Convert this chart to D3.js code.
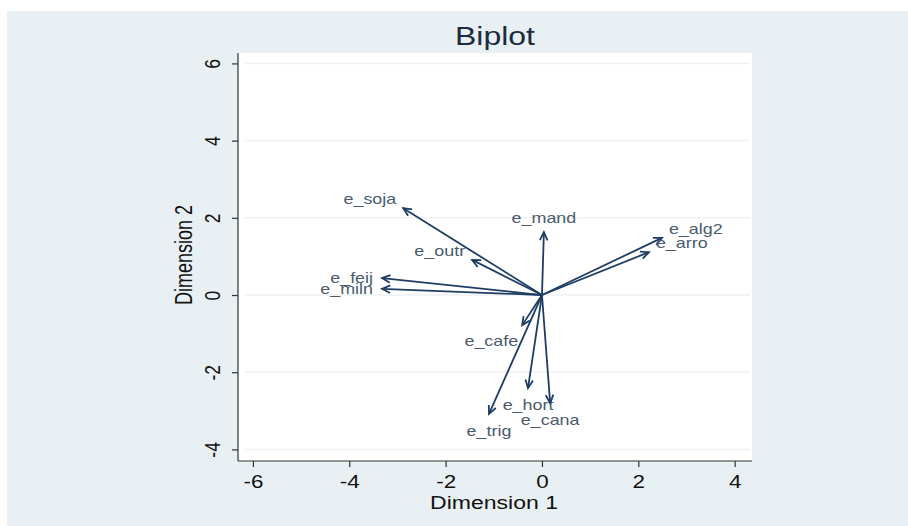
<!DOCTYPE html>
<html>
<head>
<meta charset="utf-8">
<script src="https://cdn.jsdelivr.net/npm/d3@7"></script>
<style>
  html, body { margin: 0; padding: 0; background: #ffffff; }
  svg { display: block; font-family: "Liberation Sans", Arial, sans-serif; }
</style>
</head>
<body>
<div id="chart"></div>
<script>
// biplot loadings
const variables = ["e_soja", "e_outr", "e_feij", "e_miln", "e_mand", "e_alg2", "e_arro", "e_cafe", "e_hort", "e_cana", "e_trig"];
const dim1 = [-2.88, -1.45, -3.32, -3.32, 0.04, 2.49, 2.22, -0.41, -0.29, 0.17, -1.10];
const dim2 = [2.25, 0.91, 0.44, 0.16, 1.63, 1.48, 1.11, -0.78, -2.41, -2.80, -3.08];
const xTicks = [-6, -4, -2, 0, 2, 4];
const yTicks = [-4, -2, 0, 2, 4, 6];

// label clock positions (like stata mlabvpos)
const labelClock = { e_soja: 10, e_outr: 10, e_feij: 9, e_miln: 9, e_mand: 12, e_alg2: 2, e_arro: 2, e_cafe: 7, e_hort: 6, e_cana: 6, e_trig: 6 };

drawBiplot();

function drawBiplot() {
  const width = 908, height = 526;
  const sx = 1.28; // picture is stretched sideways
  const left = 238, right = 752, top = 53, bottom = 461;

  const svg = d3.select("#chart").append("svg")
      .attr("width", width)
      .attr("height", height);

  // graph region
  svg.append("rect")
      .attr("x", 7).attr("y", 11)
      .attr("width", width - 7).attr("height", height - 11)
      .attr("fill", "#e8f0f3");

  // plot region
  svg.append("rect")
      .attr("x", left).attr("y", top)
      .attr("width", right - left).attr("height", bottom - top)
      .attr("fill", "#ffffff");

  const x = d3.scaleLinear().domain([-6.31, 4.36]).range([left, right]);
  const y = d3.scaleLinear().domain([-4.30, 6.27]).range([bottom, top]);

  // grid lines
  svg.append("g").selectAll("line")
      .data(yTicks)
      .enter().append("line")
      .attr("x1", left + 6).attr("x2", right - 2)
      .attr("y1", d => y(d)).attr("y2", d => y(d))
      .attr("stroke", "#edf2f4")
      .attr("stroke-width", 1.5);

  // axes
  const xAxis = svg.append("g")
      .attr("transform", "translate(0," + bottom + ")")
      .call(d3.axisBottom(x).tickValues(xTicks).tickSize(6).tickSizeOuter(0).tickFormat(d => String(d)));
  xAxis.selectAll("text")
      .attr("y", 0).attr("dy", 0)
      .attr("transform", "translate(0,27) scale(" + sx + ",1)")
      .attr("font-size", 17.5)
      .attr("fill", "#111");

  const yAxis = svg.append("g")
      .attr("transform", "translate(" + left + ",0)")
      .call(d3.axisLeft(y).tickValues(yTicks).tickSize(6).tickSizeOuter(0).tickFormat(d => String(d)));
  yAxis.selectAll("text")
      .attr("x", 0).attr("dy", 0)
      .attr("text-anchor", "middle")
      .attr("transform", "translate(-18,0) scale(" + sx + ",1) rotate(-90)")
      .attr("font-size", 17.5)
      .attr("fill", "#111");

  svg.selectAll(".domain, .tick line").attr("stroke", "#333").attr("stroke-width", 1.2);
  // axis lines run over the whole plot region
  xAxis.select(".domain").attr("d", "M" + left + ",0H" + right);
  yAxis.select(".domain").attr("d", "M0," + top + "V" + bottom);

  // titles
  svg.append("text")
      .attr("transform", "translate(495,45) scale(" + sx + ",1)")
      .attr("text-anchor", "middle")
      .attr("font-size", 25)
      .attr("fill", "#1c2b3f")
      .text("Biplot");

  svg.append("text")
      .attr("transform", "translate(494,509) scale(" + sx + ",1)")
      .attr("text-anchor", "middle")
      .attr("font-size", 18)
      .attr("fill", "#111")
      .text("Dimension 1");

  svg.append("text")
      .attr("transform", "translate(192,255) scale(" + sx + ",1) rotate(-90)")
      .attr("text-anchor", "middle")
      .attr("font-size", 18)
      .attr("fill", "#111")
      .text("Dimension 2");

  // arrows
  const rows = variables.map((v, i) => ({ name: v, d1: dim1[i], d2: dim2[i] }));
  const arrowColor = "#1f3d64";
  const x0 = x(0), y0 = y(0);
  const barb = 9, spread = 25 * Math.PI / 180;

  const arrows = svg.append("g").selectAll("g")
      .data(rows)
      .enter().append("g");

  arrows.append("line")
      .attr("x1", x0).attr("y1", y0)
      .attr("x2", d => x(d.d1)).attr("y2", d => y(d.d2))
      .attr("stroke", arrowColor)
      .attr("stroke-width", 1.8);

  arrows.append("path")
      .attr("fill", "none")
      .attr("stroke", arrowColor)
      .attr("stroke-width", 1.8)
      .attr("d", d => {
        const tx = x(d.d1), ty = y(d.d2);
        const a = Math.atan2(ty - y0, tx - x0);
        const p1 = [tx - barb * Math.cos(a - spread), ty - barb * Math.sin(a - spread)];
        const p2 = [tx - barb * Math.cos(a + spread), ty - barb * Math.sin(a + spread)];
        return "M" + p1 + "L" + tx + "," + ty + "L" + p2;
      });

  const clockOffset = {
    12: { anchor: "middle", dx: 0, dy: -14 },
    2: { anchor: "start", dx: 7, dy: -9 },
    6: { anchor: "middle", dx: 0, dy: 17 },
    7: { anchor: "end", dx: -4, dy: 16 },
    9: { anchor: "end", dx: -9, dy: 0 },
    10: { anchor: "end", dx: -7, dy: -9 }
  };

  arrows.append("text")
      .attr("transform", d => {
        const o = clockOffset[labelClock[d.name]];
        return "translate(" + (x(d.d1) + o.dx) + "," + (y(d.d2) + o.dy) + ") scale(" + sx + ",1)";
      })
      .attr("text-anchor", d => clockOffset[labelClock[d.name]].anchor)
      .attr("dy", "0.35em")
      .attr("font-size", 14)
      .attr("fill", "#4a5b6d")
      .text(d => d.name);
}
</script>
</body>
</html>
